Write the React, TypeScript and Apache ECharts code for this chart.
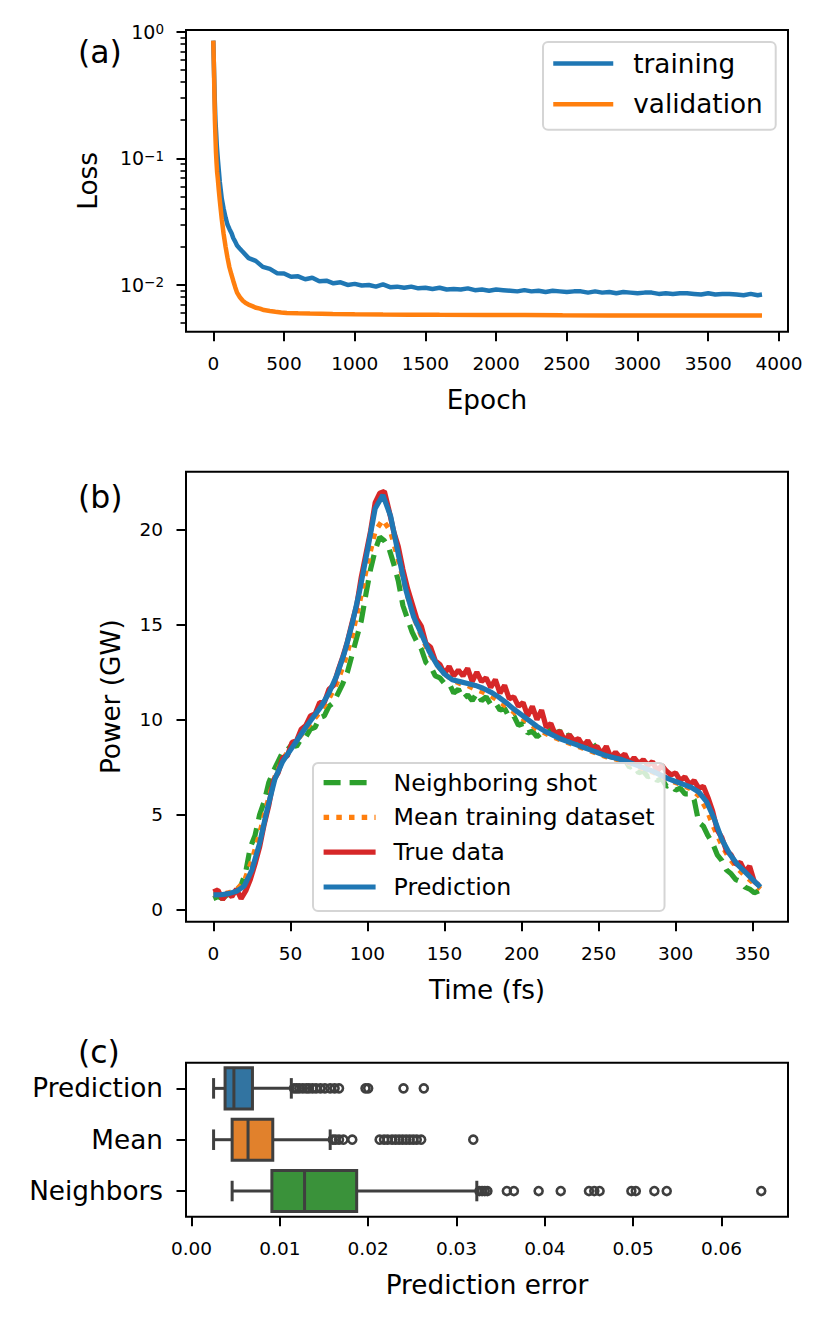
import React, { useEffect, useRef } from 'react';
import * as echarts from 'echarts';

// ---------- Panel (a): loss curves ----------
const trainEpochs = [0, 5, 10, 15, 20, 25, 32, 40, 46, 60, 73, 87, 100, 114, 130, 141, 155, 168, 185,
  200, 250, 300, 350, 400, 450, 500, 550, 600, 650,
  700, 750, 800, 850, 900, 950, 1000, 1050, 1100, 1150,
  1200, 1250, 1300, 1350, 1400, 1450, 1500, 1550, 1600, 1650,
  1700, 1750, 1800, 1850, 1900, 1950, 2000, 2050, 2100, 2150,
  2200, 2250, 2300, 2350, 2400, 2450, 2500, 2550, 2600, 2650,
  2700, 2750, 2800, 2850, 2900, 2950, 3000, 3050, 3100, 3150,
  3200, 3250, 3300, 3350, 3400, 3450, 3500, 3550, 3600, 3650,
  3700, 3750, 3800, 3850, 3880];
const trainLoss = [0.85, 0.5, 0.3, 0.2, 0.16, 0.125, 0.099, 0.078, 0.065, 0.048, 0.040, 0.034, 0.030, 0.0277, 0.0255, 0.0235, 0.022, 0.0205, 0.0195,
  0.0187, 0.0163, 0.0155, 0.0139, 0.0134, 0.0124, 0.0123, 0.0116, 0.0117, 0.0111,
  0.0114, 0.0107, 0.0108, 0.0103, 0.0105, 0.0100, 0.0102, 0.0099, 0.0100, 0.0097,
  0.0101, 0.0096, 0.0097, 0.0095, 0.0097, 0.0094, 0.0095, 0.0093, 0.0095, 0.0092,
  0.0093, 0.0092, 0.0094, 0.0091, 0.0092, 0.0090, 0.0092, 0.0091, 0.0090, 0.0089,
  0.0091, 0.0089, 0.0090, 0.0088, 0.0090, 0.0089, 0.0088, 0.0089, 0.0089, 0.0087,
  0.0089, 0.0087, 0.0088, 0.0086, 0.0088, 0.0087, 0.0086, 0.0087, 0.0087, 0.0085,
  0.0086, 0.0085, 0.0086, 0.0086, 0.0085, 0.0084, 0.0086, 0.0084, 0.0085, 0.0085,
  0.0084, 0.0083, 0.0085, 0.0083, 0.0084];
const valEpochs = [0, 4, 8, 11, 15, 19, 23, 27, 32, 39, 46, 53, 60, 73, 87, 100, 114, 128, 141, 155, 168, 188, 209, 229, 249, 276, 303, 330, 358, 400, 439, 480, 520, 600, 683, 764, 845, 1000, 1200, 1387, 1600, 1929, 2200, 2470, 2800, 3012, 3400, 3880];
const valLoss = [0.85, 0.55, 0.32, 0.205, 0.15, 0.112, 0.092, 0.078, 0.069, 0.056, 0.0465, 0.039, 0.033, 0.0253, 0.020, 0.0165, 0.0138, 0.0121, 0.0108, 0.0096, 0.0087, 0.0080, 0.0075, 0.0072, 0.0070, 0.0068, 0.0066, 0.0065, 0.00634, 0.00624, 0.00615, 0.00607, 0.0060, 0.00597, 0.00594, 0.00592, 0.0059, 0.00587, 0.00584, 0.00582, 0.00581, 0.0058, 0.00578, 0.00576, 0.00575, 0.00575, 0.00574, 0.00573];
const epochTicks = [0, 500, 1000, 1500, 2000, 2500, 3000, 3500, 4000];
const lossMajorTicks = [0.01, 0.1, 1];
const lossMinorTicks = [0.005, 0.006, 0.007, 0.008, 0.009, 0.02, 0.03, 0.04, 0.05, 0.06, 0.07, 0.08, 0.09, 0.2, 0.3, 0.4, 0.5, 0.6, 0.7, 0.8, 0.9];

// ---------- Panel (b): power profiles ----------
const timeSmooth = [0, 5, 10, 15, 20, 25, 30, 35, 40, 45, 50, 55, 60, 65, 70, 75, 80, 85, 90, 95,
  100, 105, 110, 115, 120, 125, 130, 135, 140, 145, 150, 155, 160, 165, 170, 175, 180, 185, 190, 195,
  200, 205, 210, 215, 220, 225, 230, 235, 240, 245, 250, 255, 260, 265, 270, 275, 280, 285, 290, 295,
  300, 305, 310, 315, 320, 325, 330, 335, 340, 345, 350, 355];
const predictionPower = [0.79, 0.80, 0.86, 0.98, 1.25, 2.1, 3.5, 5.3, 6.9, 7.8,
  8.4, 9.0, 9.6, 10.15, 10.7, 11.4, 12.3, 13.5, 15.0, 16.8,
  18.9, 21.1, 21.8, 20.7, 18.7, 16.8, 15.4, 14.5, 13.6, 12.9,
  12.4, 12.1, 12.0, 11.9, 11.8, 11.65, 11.45, 11.2, 10.9, 10.55,
  10.25, 9.95, 9.65, 9.4, 9.2, 9.0, 8.85, 8.7, 8.55, 8.4,
  8.25, 8.1, 8.0, 7.9, 7.75, 7.6, 7.45, 7.3, 7.1, 6.9,
  6.75, 6.6, 6.45, 6.2, 5.7, 4.8, 3.7, 2.95, 2.4, 2.0,
  1.6, 1.2];
const meanPower = [0.8, 0.82, 0.9, 1.05, 1.5, 2.6, 4.0, 5.6, 7.0, 7.9,
  8.5, 9.0, 9.5, 10.0, 10.5, 11.1, 11.9, 13.0, 14.4, 16.2,
  18.2, 19.9, 20.5, 19.9, 18.4, 16.8, 15.4, 14.4, 13.5, 12.9,
  12.4, 12.1, 11.9, 11.8, 11.6, 11.45, 11.25, 11.0, 10.7, 10.4,
  10.1, 9.8, 9.5, 9.3, 9.1, 8.95, 8.8, 8.65, 8.5, 8.35,
  8.2, 8.05, 7.95, 7.85, 7.7, 7.55, 7.4, 7.25, 7.05, 6.85,
  6.7, 6.55, 6.35, 6.0, 5.3, 4.3, 3.4, 2.7, 2.2, 1.8,
  1.45, 1.1];
const timeNoisy = [0, 3, 6, 9, 12, 15, 18, 21, 24, 27, 30, 33, 36, 39, 42, 45, 48, 51, 54, 57,
  60, 63, 66, 69, 72, 75, 78, 81, 84, 87, 90, 93, 96, 99, 102, 105, 108, 111, 114, 117,
  120, 123, 126, 129, 132, 135, 138, 141, 144, 147, 150, 153, 156, 159, 162, 165, 168, 171, 174, 177,
  180, 183, 186, 189, 192, 195, 198, 201, 204, 207, 210, 213, 216, 219, 222, 225, 228, 231, 234, 237,
  240, 243, 246, 249, 252, 255, 258, 261, 264, 267, 270, 273, 276, 279, 282, 285, 288, 291, 294, 297,
  300, 303, 306, 309, 312, 315, 318, 321, 324, 327, 330, 333, 336, 339, 342, 345, 348, 351, 354];
const truePower = [0.95, 1.05, 0.55, 0.9, 0.7, 1.1, 0.6, 1.0, 1.6, 2.4,
  3.3, 4.5, 5.5, 6.8, 7.2, 8.0, 8.1, 8.8, 8.9, 9.5,
  9.7, 10.2, 10.3, 10.9, 10.9, 11.6, 11.8, 12.6, 13.3, 14.1,
  15.1, 16.0, 17.5, 18.7, 19.9, 21.4, 21.9, 22.0, 21.0, 19.9,
  19.1, 17.9, 16.9, 16.1, 15.3, 14.9, 14.0, 13.8, 13.1, 12.9,
  12.4, 12.8, 12.3, 12.6, 12.3, 12.7, 12.0, 12.5, 12.0, 12.2,
  11.7, 12.1, 11.4, 11.8, 11.1, 11.2, 10.7, 10.9, 10.2, 10.7,
  10.0, 10.5, 9.6, 9.8, 9.2, 9.4, 8.9, 9.2, 8.9, 9.0,
  8.6, 8.9, 8.5, 8.6, 8.2, 8.6, 8.0, 8.3, 8.0, 8.2,
  7.7, 8.0, 7.7, 7.9, 7.6, 7.8, 7.3, 7.6, 7.3, 7.1,
  7.2, 6.8, 7.0, 6.6, 6.8, 6.4, 6.5, 5.9, 5.2, 4.2,
  3.8, 3.1, 2.9, 2.4, 2.5, 2.0, 2.3, 1.5, 1.3];
const neighborPower = [0.6, 0.7, 0.6, 0.8, 0.7, 1.0, 1.3, 2.0, 3.3, 3.9,
  5.0, 5.7, 6.7, 7.3, 7.8, 8.3, 8.4, 8.7, 8.6, 9.0,
  9.1, 9.5, 9.6, 10.1, 10.2, 10.7, 10.9, 11.4, 11.9, 12.5,
  13.4, 14.3, 15.2, 16.6, 17.9, 18.9, 19.6, 19.4, 19.0, 18.2,
  17.3, 16.0, 15.3, 14.6, 14.1, 13.7, 13.0, 12.8, 12.3, 12.2,
  11.9, 11.9, 11.4, 11.6, 11.1, 11.3, 11.0, 11.4, 11.0, 11.2,
  10.8, 10.9, 10.5, 10.6, 10.1, 10.2, 9.7, 9.8, 9.3, 9.4,
  9.1, 9.3, 9.2, 9.5, 9.3, 9.4, 9.1, 9.2, 8.8, 9.0,
  8.7, 8.8, 8.5, 8.7, 8.4, 8.4, 8.0, 8.2, 7.8, 7.9,
  7.5, 7.6, 7.2, 7.3, 7.0, 7.1, 6.8, 6.9, 6.5, 6.6,
  6.3, 6.4, 6.1, 6.1, 5.8, 4.6, 4.4, 3.9, 3.5, 2.9,
  2.6, 2.1, 1.9, 1.6, 1.5, 1.2, 1.1, 0.9, 1.0];
const timeTicks = [0, 50, 100, 150, 200, 250, 300, 350];
const powerTicks = [0, 5, 10, 15, 20];

// ---------- Panel (c): prediction error box plots ----------
const boxCategories = ['Prediction', 'Mean', 'Neighbors'];
const boxLow = [0.0025, 0.0025, 0.0046];
const boxQ1 = [0.0038, 0.0046, 0.0091];
const boxMedian = [0.0048, 0.0064, 0.0128];
const boxQ3 = [0.0069, 0.0092, 0.0187];
const boxHigh = [0.0113, 0.0157, 0.0323];
const outliersPrediction = [0.0116, 0.0119, 0.0122, 0.0126, 0.0130, 0.0133, 0.0137, 0.0141, 0.0146, 0.0151, 0.0157, 0.0162, 0.0167, 0.0197, 0.0200, 0.0240, 0.0263];
const outliersMean = [0.0160, 0.0163, 0.0167, 0.0172, 0.0182, 0.0213, 0.0218, 0.0222, 0.0227, 0.0231, 0.0235, 0.0239, 0.0243, 0.0247, 0.0251, 0.0255, 0.0260, 0.0319];
const outliersNeighbors = [0.0326, 0.0329, 0.0332, 0.0335, 0.0357, 0.0365, 0.0393, 0.0418, 0.0450, 0.0456, 0.0462, 0.0498, 0.0503, 0.0524, 0.0538, 0.0645];
const errorTicks = [0, 0.01, 0.02, 0.03, 0.04, 0.05, 0.06];

// ---------- styling ----------
const FONT = 'DejaVu Sans';
const TICK_FS = 18.5;
const LABEL_FS = 26.3;
const C_BLUE = '#1f77b4';
const C_ORANGE = '#ff7f0e';
const C_GREEN = '#2ca02c';
const C_RED = '#d62728';
const BOX_COLORS = ['#3274a1', '#e1812c', '#3a923a'];
const EDGE = '#3f3f3f';
const LW_A = 4.5;
const LW_B = 5.2;
const BOX_LW = 3;

function valueAxis(gridIndex: number, min: number, max: number, ticks: number[], extra: any = {}) {
  return {
    type: 'value',
    gridIndex,
    min,
    max,
    axisLine: { show: false, onZero: false },
    axisTick: { show: true, customValues: ticks, length: 9.5, lineStyle: { color: '#000', width: 2 } },
    axisLabel: { customValues: ticks, fontSize: TICK_FS, color: '#000', fontFamily: FONT, margin: 22, formatter: (v: number) => String(v) },
    splitLine: { show: false },
    nameTextStyle: { fontSize: LABEL_FS, color: '#000', fontFamily: FONT },
    ...extra,
  };
}

function legendBase(extra: any) {
  return {
    orient: 'vertical',
    selectedMode: false,
    backgroundColor: 'rgba(255,255,255,0.8)',
    borderColor: '#d5d5d5',
    borderWidth: 2,
    borderRadius: 5,
    itemHeight: 14,
    itemStyle: { opacity: 0 },
    ...extra,
  };
}

function buildOption() {
  const gridBase = { show: true, borderColor: '#000', borderWidth: 2, backgroundColor: 'transparent' };
  const edgeStyle = () => ({ stroke: EDGE, lineWidth: BOX_LW });
  const lossMajor = lossMajorTicks.map((v) => Math.log10(v));
  return {
    animation: false,
    backgroundColor: '#fff',
    textStyle: { fontFamily: FONT },
    grid: [
      { ...gridBase, left: 186, top: 30, width: 602, height: 301.7 },
      { ...gridBase, left: 186, top: 471.7, width: 602, height: 450 },
      { ...gridBase, left: 186, top: 1062.7, width: 602, height: 154 },
    ],
    xAxis: [
      valueAxis(0, -193, 4064, epochTicks, { name: 'Epoch', nameLocation: 'middle', nameGap: 55 }),
      valueAxis(1, -17.75, 372.9, timeTicks, { name: 'Time (fs)', nameLocation: 'middle', nameGap: 55 }),
      valueAxis(2, -0.000623, 0.06753, errorTicks, {
        name: 'Prediction error', nameLocation: 'middle', nameGap: 55,
        axisLabel: { customValues: errorTicks, fontSize: TICK_FS, color: '#000', fontFamily: FONT, margin: 22, formatter: (v: number) => v.toFixed(2) },
      }),
    ],
    yAxis: [
      valueAxis(0, -2.369, 0.013, lossMajor, {
        name: 'Loss', nameLocation: 'middle', nameGap: 85, nameRotate: 90,
        axisLabel: {
          customValues: lossMajor,
          color: '#000', fontFamily: FONT, margin: 22,
          formatter: (v: number) => '{b|10}{s|' + String(Math.round(v)).replace('-', '\u2212') + '}',
          rich: {
            b: { fontSize: 19, fontFamily: FONT, color: '#000', lineHeight: 19, padding: [4.5, 0, 4.5, 0] },
            s: { fontSize: 13.5, fontFamily: FONT, color: '#000', lineHeight: 13, verticalAlign: 'top' },
          },
        },
      }),
      {
        type: 'value', gridIndex: 0, min: -2.369, max: 0.013, position: 'left',
        axisLine: { show: false, onZero: false },
        axisTick: { show: true, customValues: lossMinorTicks.map((v) => Math.log10(v)), length: 5.5, lineStyle: { color: '#000', width: 1.6 } },
        axisLabel: { show: false },
        splitLine: { show: false },
      },
      valueAxis(1, -0.615, 23.03, powerTicks, { name: 'Power (GW)', nameLocation: 'middle', nameGap: 62, nameRotate: 90, axisLabel: { customValues: powerTicks, fontSize: TICK_FS, color: '#000', fontFamily: FONT, margin: 23, formatter: (v: number) => String(v) } }),
      {
        type: 'category', gridIndex: 2, data: boxCategories, inverse: true,
        axisLine: { show: false, onZero: false },
        axisTick: { show: true, alignWithLabel: true, length: 9.5, lineStyle: { color: '#000', width: 2 } },
        axisLabel: { fontSize: LABEL_FS, color: '#000', fontFamily: FONT, margin: 23 },
        splitLine: { show: false },
      },
    ],
    legend: [
      legendBase({
        data: ['training', 'validation'], left: 543, top: 42,
        padding: [8, 13, 12, 8], itemWidth: 60, itemGap: 13.7,
        lineStyle: { width: LW_A },
        textStyle: { fontSize: LABEL_FS, color: '#000', fontFamily: FONT, lineHeight: 27, padding: [0, 0, 0, 15] },
      }),
      legendBase({
        data: ['Neighboring shot', 'Mean training dataset', 'True data', 'Prediction'], left: 313, top: 763,
        padding: [7.6, 10, 12, 8], itemWidth: 52, itemGap: 10.8,
        lineStyle: { width: LW_B },
        textStyle: { fontSize: 23.7, color: '#000', fontFamily: FONT, lineHeight: 24, padding: [0, 0, 0, 13] },
      }),
    ],
    graphic: [
      { type: 'text', x: 78, y: 51.5, style: { text: '(a)', fontSize: 31.5, fontFamily: FONT, fill: '#000', align: 'left', verticalAlign: 'middle' } },
      { type: 'text', x: 78, y: 496.7, style: { text: '(b)', fontSize: 31.5, fontFamily: FONT, fill: '#000', align: 'left', verticalAlign: 'middle' } },
      { type: 'text', x: 78, y: 1051.7, style: { text: '(c)', fontSize: 31.5, fontFamily: FONT, fill: '#000', align: 'left', verticalAlign: 'middle' } },
    ],
    series: [
      {
        type: 'line', name: 'training', xAxisIndex: 0, yAxisIndex: 0, symbol: 'none', showSymbol: false,
        data: trainEpochs.map((e, i) => [e, Math.log10(trainLoss[i])]),
        lineStyle: { color: C_BLUE, width: LW_A }, itemStyle: { color: C_BLUE },
      },
      {
        type: 'line', name: 'validation', xAxisIndex: 0, yAxisIndex: 0, symbol: 'none', showSymbol: false,
        data: valEpochs.map((e, i) => [e, Math.log10(valLoss[i])]),
        lineStyle: { color: C_ORANGE, width: LW_A }, itemStyle: { color: C_ORANGE },
      },
      {
        type: 'line', name: 'Neighboring shot', xAxisIndex: 1, yAxisIndex: 2, symbol: 'none', showSymbol: false,
        data: timeNoisy.map((t, i) => [t, neighborPower[i]]),
        lineStyle: { color: C_GREEN, width: LW_B, type: [17, 9], cap: 'butt' }, itemStyle: { color: C_GREEN },
      },
      {
        type: 'line', name: 'Mean training dataset', xAxisIndex: 1, yAxisIndex: 2, symbol: 'none', showSymbol: false,
        data: timeSmooth.map((t, i) => [t, meanPower[i]]),
        lineStyle: { color: C_ORANGE, width: LW_B, type: [5.5, 7.2], cap: 'butt' }, itemStyle: { color: C_ORANGE },
      },
      {
        type: 'line', name: 'True data', xAxisIndex: 1, yAxisIndex: 2, symbol: 'none', showSymbol: false,
        data: timeNoisy.map((t, i) => [t, truePower[i]]),
        lineStyle: { color: C_RED, width: LW_B }, itemStyle: { color: C_RED },
      },
      {
        type: 'line', name: 'Prediction', xAxisIndex: 1, yAxisIndex: 2, symbol: 'none', showSymbol: false,
        data: timeSmooth.map((t, i) => [t, predictionPower[i]]),
        lineStyle: { color: C_BLUE, width: LW_B }, itemStyle: { color: C_BLUE },
      },
      {
        type: 'custom', name: 'boxes', xAxisIndex: 2, yAxisIndex: 3,
        encode: { x: [1, 2, 3, 4, 5], y: 0 },
        data: boxCategories.map((_, i) => [i, boxLow[i], boxQ1[i], boxMedian[i], boxQ3[i], boxHigh[i]]),
        renderItem: (params: any, api: any) => {
          const cat = api.value(0);
          const pLow = api.coord([api.value(1), cat]);
          const cy = pLow[1];
          const xLow = pLow[0];
          const xQ1 = api.coord([api.value(2), cat])[0];
          const xMed = api.coord([api.value(3), cat])[0];
          const xQ3 = api.coord([api.value(4), cat])[0];
          const xHigh = api.coord([api.value(5), cat])[0];
          const band = api.size([0, 1])[1];
          const hw = band * 0.4;
          const cw = hw * 0.5;
          return {
            type: 'group',
            children: [
              { type: 'line', shape: { x1: xLow, y1: cy, x2: xQ1, y2: cy }, style: edgeStyle() },
              { type: 'line', shape: { x1: xQ3, y1: cy, x2: xHigh, y2: cy }, style: edgeStyle() },
              { type: 'line', shape: { x1: xLow, y1: cy - cw, x2: xLow, y2: cy + cw }, style: edgeStyle() },
              { type: 'line', shape: { x1: xHigh, y1: cy - cw, x2: xHigh, y2: cy + cw }, style: edgeStyle() },
              { type: 'rect', shape: { x: xQ1, y: cy - hw, width: xQ3 - xQ1, height: 2 * hw }, style: { fill: BOX_COLORS[params.dataIndex], stroke: EDGE, lineWidth: BOX_LW } },
              { type: 'line', shape: { x1: xMed, y1: cy - hw, x2: xMed, y2: cy + hw }, style: edgeStyle() },
            ],
          };
        },
      },
      {
        type: 'scatter', name: 'outliers', xAxisIndex: 2, yAxisIndex: 3,
        symbol: 'circle', symbolSize: 8,
        data: [
          ...outliersPrediction.map((v) => [v, 0]),
          ...outliersMean.map((v) => [v, 1]),
          ...outliersNeighbors.map((v) => [v, 2]),
        ],
        itemStyle: { color: 'rgba(255,255,255,0)', borderColor: EDGE, borderWidth: 2.6, opacity: 1 },
      },
    ],
  };
}

export default function App() {
  const ref = useRef<HTMLDivElement>(null);
  useEffect(() => {
    const chart = echarts.init(ref.current as HTMLDivElement, null, { renderer: 'svg', width: 829, height: 1326 });
    chart.setOption(buildOption() as any);
    return () => chart.dispose();
  }, []);
  return <div ref={ref} style={{ position: 'absolute', left: 0, top: 0, width: 829, height: 1326, background: '#fff' }} />;
}
